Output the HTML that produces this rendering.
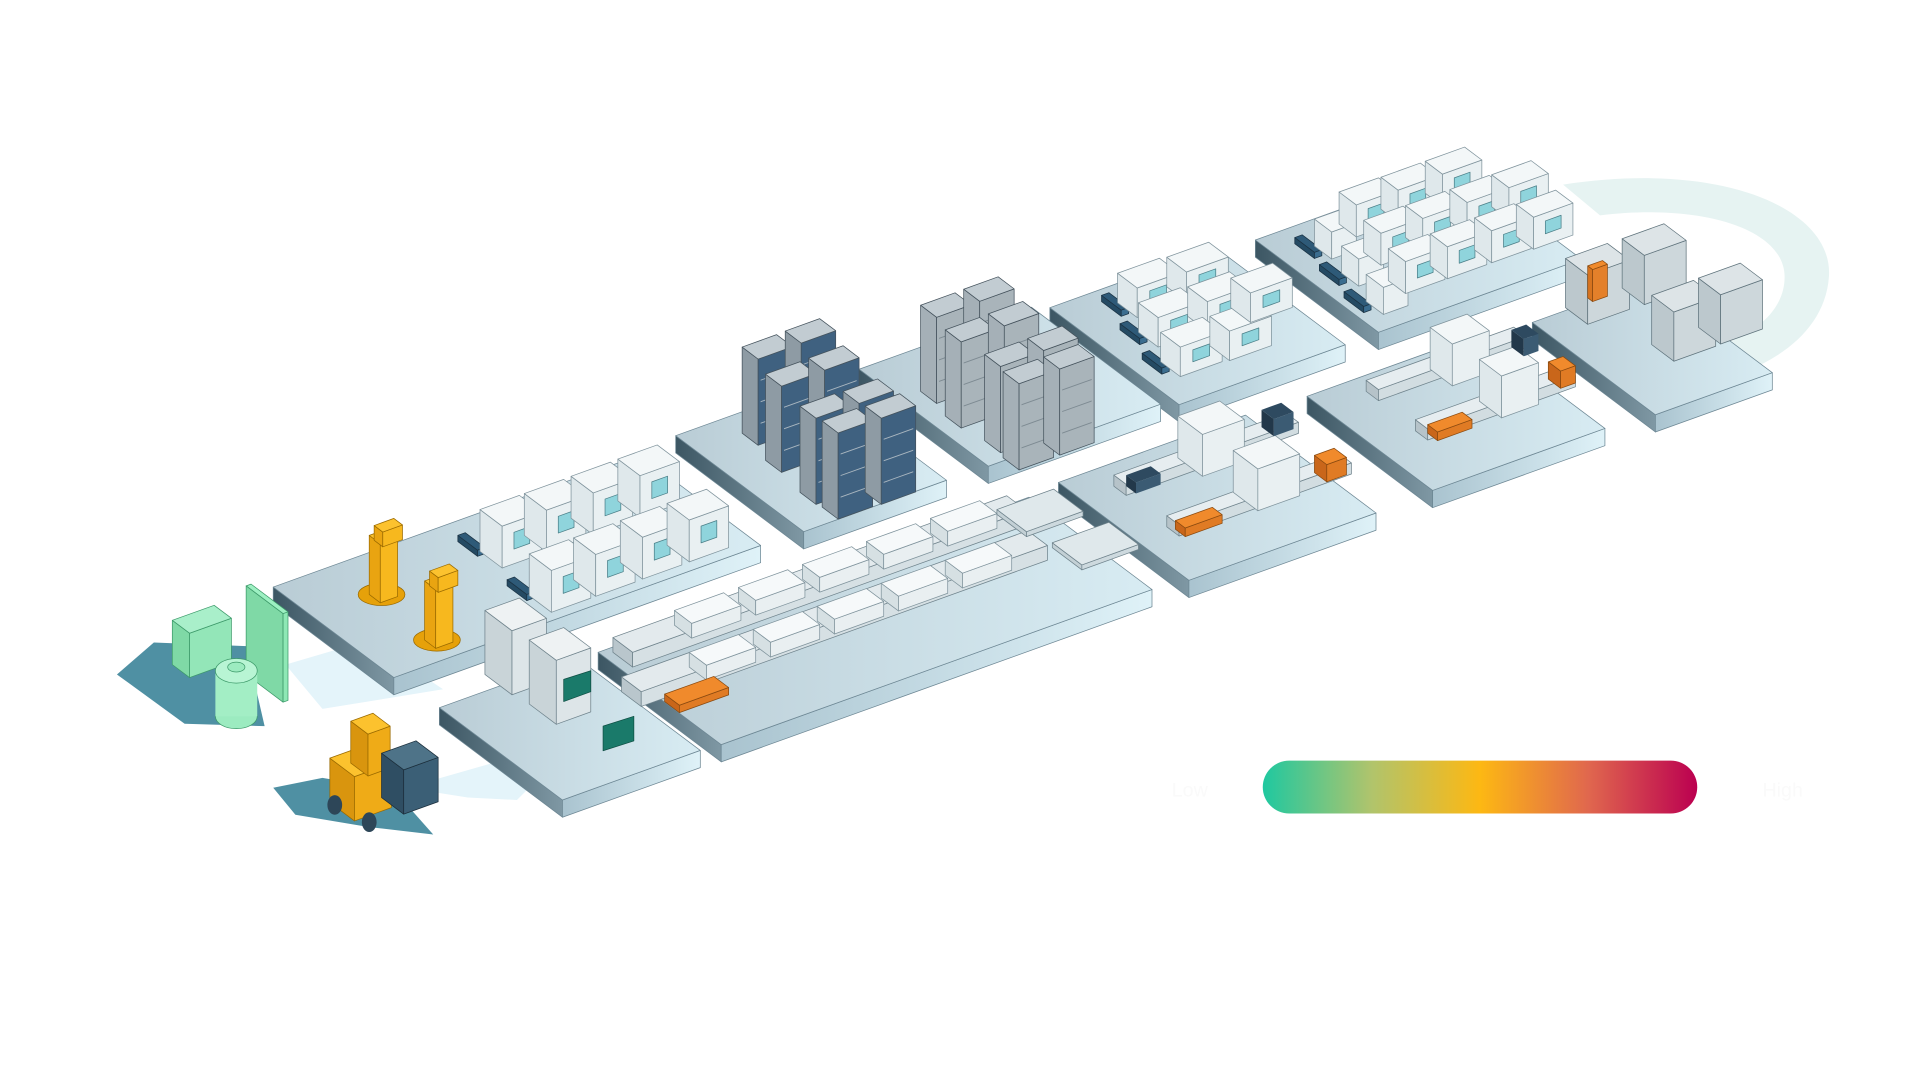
<!DOCTYPE html>
<html><head><meta charset="utf-8"><style>
html,body{margin:0;padding:0;background:#fff;width:1920px;height:1080px;overflow:hidden}
svg{display:block}
</style></head><body>
<svg id="s" width="1920" height="1080" viewBox="0 0 1560 877.5" preserveAspectRatio="none" xmlns="http://www.w3.org/2000/svg">
<defs>
<linearGradient id="bar" x1="0" x2="1">
<stop offset="0" stop-color="#1fc8a0"/><stop offset="0.25" stop-color="#b0c46c"/><stop offset="0.5" stop-color="#fdb813"/><stop offset="0.75" stop-color="#e0674e"/><stop offset="1" stop-color="#bb0050"/></linearGradient>
<linearGradient id="sideL" x1="0" x2="1"><stop offset="0" stop-color="#3c5663"/><stop offset="1" stop-color="#7f98a4"/></linearGradient>
<linearGradient id="sideR" x1="0" x2="1"><stop offset="0" stop-color="#a9c3cf"/><stop offset="1" stop-color="#dff2f8"/></linearGradient>
<linearGradient id="ptop" x1="0" x2="1" y1="0" y2="0"><stop offset="0" stop-color="#b9ccd5"/><stop offset="1" stop-color="#d8ecf3"/></linearGradient>
</defs>
<path d="M1270 150 C1400 130 1490 170 1486 225 C1482 280 1420 310 1360 315 L1350 290 C1410 285 1450 260 1450 225 C1450 185 1380 165 1300 175 Z" fill="#e6f3f2"/>
<g id="g"></g>
<rect x="1026" y="618" width="353" height="43" rx="21.5" fill="url(#bar)"/>
<text x="952" y="647" font-family="Liberation Sans, sans-serif" font-size="16" fill="#fafafa">Low</text>
<text x="1432" y="647" font-family="Liberation Sans, sans-serif" font-size="16" fill="#fafafa">High</text>
</svg>
<script>
const g=document.getElementById('g');const NS='http://www.w3.org/2000/svg';
const U=[1,-0.36],V=[1,0.75];
function poly(pts,fill,stroke,sw){const p=document.createElementNS(NS,'polygon');p.setAttribute('points',pts.map(q=>q[0].toFixed(1)+','+q[1].toFixed(1)).join(' '));p.setAttribute('fill',fill);if(stroke){p.setAttribute('stroke',stroke);p.setAttribute('stroke-width',sw||'0.6');p.setAttribute('stroke-linejoin','round');}g.appendChild(p);}
function pt(x,y,a,b,h){return [x+U[0]*a+V[0]*b,y+U[1]*a+V[1]*b-h];}
function box(x,y,a,b,h,top,fL,fR,st){
 const A=pt(x,y,0,0,0),C=pt(x,y,a,b,0),D=pt(x,y,0,b,0);
 const At=pt(x,y,0,0,h),Bt=pt(x,y,a,0,h),Ct=pt(x,y,a,b,h),Dt=pt(x,y,0,b,h);
 poly([A,D,Dt,At],fL,st);poly([D,C,Ct,Dt],fR,st);poly([At,Bt,Ct,Dt],top,st);}
function plat(x,y,a,b){box(x,y+14,a,b,14,'url(#ptop)','url(#sideL)','url(#sideR)','#6d8794');}
function ell(cx,cy,rx,ry,f,s){const e=document.createElementNS(NS,'ellipse');e.setAttribute('cx',cx);e.setAttribute('cy',cy);e.setAttribute('rx',rx);e.setAttribute('ry',ry);e.setAttribute('fill',f);if(s){e.setAttribute('stroke',s);e.setAttribute('stroke-width','0.6');}g.appendChild(e);}
// ground shadows / light paths
poly([[95,548],[125,522],[200,525],[215,590],[150,588]],'#4f90a3');
poly([[222,640],[262,632],[320,642],[352,678],[300,672],[240,662]],'#4f90a3');
poly([[330,640],[400,620],[470,600],[420,650],[380,648]],'#e4f4fa');
poly([[232,540],[300,520],[360,560],[262,576]],'#e4f4fa');
// platforms
plat(1020,195,165,100);plat(1245,262,95,100);plat(853,250,135,105);plat(698,300,140,105);
plat(1062,322,140,102);plat(549,354,116,104);plat(860,392,152,106);plat(222,477,298,98);
plat(486,530,350,100);plat(357,575,112,100);
// racks
function rack(x,y,dark){box(x,y,28,13,70,'#c2ccd2',dark?'#8e9ba4':'#a5b0b7',dark?'#3f6180':'#a9b4ba','#44525c');
 for(let r=1;r<4;r++){const p1=pt(x,y,2,13,70*r/4),p2=pt(x,y,26,13,70*r/4);poly([p1,p2,[p2[0],p2[1]+0.8],[p1[0],p1[1]+0.8]],dark?'#a9b6bf':'#7d8a92');}}
[[603,352],[638,339],[622,374],[657,361],[650,400],[685,388],[668,412],[703,400]].forEach(p=>rack(p[0],p[1],true));
[[748,318],[783,305],[768,338],[803,325],[800,358],[835,345],[815,372],[848,360]].forEach(p=>rack(p[0],p[1],false));
// machines
function mach(x,y,a,b,h,win){box(x,y,a,b,h,'#f3f7f8','#dfe8eb','#e9f0f2','#7f939c');
 if(win!==false){const c=pt(x,y,a*0.3,b,h*0.75);poly([c,[c[0]+a*0.4,c[1]-a*0.4*0.36],[c[0]+a*0.4,c[1]-a*0.144+h*0.4],[c[0],c[1]+h*0.4]],'#8fd4dc','#4b7f88');}}
function belt(x,y){box(x,y,6,16,5,'#2e5a78','#244a63','#3b6d8f','#1b3344');}
// platform 1
belt(372,440);belt(412,476);
[[390,448],[426,435],[464,421],[502,407]].forEach(p=>mach(p[0],p[1],32,18,34));
[[430,484],[466,471],[504,457],[542,443]].forEach(p=>mach(p[0],p[1],32,18,34));
// platform 4
[[895,245],[910,268],[928,292]].forEach(p=>belt(p[0],p[1]));
[[908,246],[948,233],[925,270],[965,257],[943,294],[983,281],[1000,250]].forEach(p=>mach(p[0],p[1],34,16,24));
// platform 5
[[1052,198],[1072,220],[1092,242]].forEach(p=>belt(p[0],p[1]));
[[1068,200],[1090,222],[1110,245]].forEach(p=>mach(p[0],p[1],20,14,22,false));
[[1088,182],[1122,170],[1158,157],[1108,205],[1142,193],[1178,180],[1212,168],[1128,228],[1162,216],[1198,203],[1232,192]].forEach(p=>mach(p[0],p[1],32,14,26));
// platform 6 cabinets
[[1272,250],[1318,234],[1342,280],[1380,266]].forEach(p=>box(p[0],p[1],34,18,40,'#dde4e7','#bcc8cd','#cdd7db','#5f737c'));
box(1290,242,12,4,26,'#f08a2c','#d6731f','#e4802a','#8a4a10');
// platform 7 & 8 machinery
function line(x,y,len){box(x,y,len,10,9,'#e6edf0','#b6c3c9','#d2dde1','#6f838c');}
line(1110,318,120);line(1150,350,120);
mach(1162,300,30,18,34,false);mach(1202,326,30,18,34,false);
box(1160,352,28,8,7,'#f08a2c','#c9661a','#e07b24','#8a4a10');box(1258,308,12,10,14,'#f08a2c','#c9661a','#e07b24','#8a4a10');
box(1228,282,12,10,14,'#2e4a60','#22384a','#3b5b73');
line(905,395,140);line(948,428,140);
mach(957,372,34,20,34,false);mach(1002,400,34,20,34,false);
box(955,430,30,8,7,'#f08a2c','#c9661a','#e07b24','#8a4a10');box(1068,384,16,10,14,'#f08a2c','#c9661a','#e07b24','#8a4a10');
box(915,395,20,8,9,'#2e4a60','#22384a','#3b5b73');box(1025,347,16,10,14,'#2e4a60','#22384a','#3b5b73');
// long conveyor line
box(498,530,320,16,12,'#e3eaed','#b9c6cc','#d6e0e4','#6f838c');
box(505,562,330,16,12,'#e3eaed','#b9c6cc','#d6e0e4','#6f838c');
for(let i=0;i<5;i++){box(548+i*52,508-i*18.7,40,14,12,'#f6f9fa','#d6e0e3','#e9eff1','#7f939c');box(560+i*52,542-i*18.7,40,14,12,'#f6f9fa','#d6e0e3','#e9eff1','#7f939c');}
box(810,418,46,24,4,'#dfe8eb','#c3d0d5','#cdd9de','#6f838c');box(855,445,46,24,4,'#dfe8eb','#c3d0d5','#cdd9de','#6f838c');
box(540,570,40,12,6,'#f08a2c','#c9661a','#e07b24','#8a4a10');
// tanks
[[394,548],[430,572]].forEach(p=>box(p[0],p[1],28,22,52,'#eef2f3','#c9d4d8','#dde5e8','#6f838c'));
poly([[490,590],[515,582],[515,602],[490,610]],'#1a7a6a','#0f4f44');poly([[458,552],[480,545],[480,562],[458,570]],'#1a7a6a','#0f4f44');
// robots
[[292,425],[337,462]].forEach(p=>{
 ell(p[0]+18,p[1]+58,19,9,'#e6a10a','#9a6a00');
 box(p[0]+8,p[1]+58,14,9,48,'#fcc22e','#e9a411','#f7b81e','#9a6a00');
 box(p[0]+12,p[1]+14,16,7,12,'#fcc22e','#e9a411','#f7b81e','#9a6a00');});
// batteries
box(140,540,34,14,36,'#a9efca','#7fd9a6','#93e6b8','#3d9a6a');
box(200,548,4,30,72,'#9df0c2','#7fd9a6','#8ee8b5','#3d9a6a');
ell(192,582,17,10,'#9cebc0','#3d9a6a');
poly([[175,545],[209,545],[209,582],[175,582]],'#a3eec5');
ell(192,545,17,10,'#b8f5d4','#3d9a6a');
ell(192,542,7,4,'#9cebc0','#3d9a6a');
// forklift
box(268,652,30,20,36,'#fcc22e','#d9950e','#efab17','#9a6a00');box(285,620,18,14,34,'#fcc22e','#d9950e','#efab17','#9a6a00');
box(310,648,28,18,36,'#4e7388','#2f4e63','#3b5f76','#1c2f3c');
ell(272,654,6,8,'#2d4658');ell(300,668,6,8,'#2d4658');
</script>
</body></html>
